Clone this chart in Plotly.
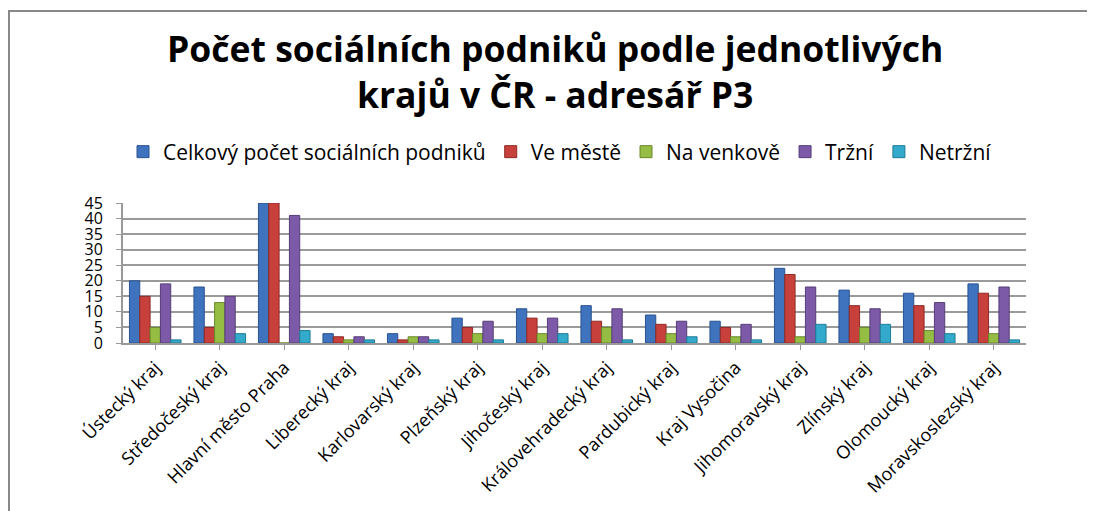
import plotly.graph_objects as go

categories = ["Ústecký kraj", "Středočeský kraj", "Hlavní město Praha", "Liberecký kraj",
              "Karlovarský kraj", "Plzeňský kraj", "Jihočeský kraj", "Královehradecký kraj",
              "Pardubický kraj", "Kraj Vysočina", "Jihomoravský kraj", "Zlínský kraj",
              "Olomoucký kraj", "Moravskoslezský kraj"]
celkem = [20, 18, 45, 3, 3, 8, 11, 12, 9, 7, 24, 17, 16, 19]
ve_meste = [15, 5, 45, 2, 1, 5, 8, 7, 6, 5, 22, 12, 12, 16]
na_venkove = [5, 13, 0, 1, 2, 3, 3, 5, 3, 2, 2, 5, 4, 3]
trzni = [19, 15, 41, 2, 2, 7, 8, 11, 7, 6, 18, 11, 13, 18]
netrzni = [1, 3, 4, 1, 1, 1, 3, 1, 2, 1, 6, 6, 3, 1]

series = [
    ("Celkový počet sociálních podniků", celkem, "#3F73BE", "#2A5290"),
    ("Ve městě", ve_meste, "#C8403B", "#8E2A27"),
    ("Na venkově", na_venkove, "#95BC43", "#6A8A2C"),
    ("Tržní", trzni, "#7C5AA8", "#563D78"),
    ("Netržní", netrzni, "#33AACB", "#1F7C96"),
]

fig = go.Figure()
for name, vals, col, edge in series:
    fig.add_trace(go.Bar(x=categories, y=vals, name=name,
                         marker=dict(color=col, line=dict(color=edge, width=1))))

# page body adds an 8px margin, so the figure is drawn 8px in from the corner
OFF = 8
W, H = 1095 - OFF, 511 - OFF
L, R, T, B = 123 - OFF, 69, 203 - OFF, 168
pw = W - L - R
ph = H - T - B
y0px = 343 - OFF  # pixel of value 0 in figure coords

fig.update_layout(
    width=W, height=H,
    margin=dict(l=L, r=R, t=T, b=B, autoexpand=False),
    paper_bgcolor="white", plot_bgcolor="white",
    barmode="group", bargap=0.2, bargroupgap=0.0,
    font=dict(family="Open Sans", color="black"),
    showlegend=True,
    legend=dict(orientation="h", x=(560 - OFF) / W, xanchor="center", xref="container",
                y=1 - (152 - OFF) / H, yref="container", yanchor="middle",
                font=dict(size=21, family="Open Sans"), itemwidth=30,
                traceorder="normal"),
    xaxis=dict(tickangle=-45, tickfont=dict(size=18, family="Open Sans"),
               automargin=False,
               showline=True, linecolor="#999", linewidth=2,
               ticks="outside", ticklen=5, tickcolor="#999", showgrid=False),
    yaxis=dict(range=[0, 45], dtick=5, tickfont=dict(size=16, family="Open Sans"),
               automargin=False, ticklabelstandoff=10,
               showline=True, linecolor="#999", linewidth=2,
               ticks="outside", ticklen=5, tickcolor="#999",
               showgrid=True, gridcolor="#9a9a9a", gridwidth=2, zeroline=False),
    annotations=[dict(text="<b>Počet sociálních podniků podle jednotlivých<br>krajů v ČR - adresář P3</b>",
                      xref="paper", yref="paper", x=(555 - 123) / pw, y=(y0px - (71 - OFF)) / ph,
                      xanchor="center", yanchor="middle", showarrow=False,
                      font=dict(size=35.5, family="Open Sans", color="black"),
                      )],
    shapes=[dict(type="rect", xref="paper", yref="paper",
                 x0=(1 - L) / pw, x1=2.0, y0=-2.0, y1=(y0px - 3) / ph,
                 line=dict(color="#888", width=2), layer="below")],
)

fig.write_html("out.html")
